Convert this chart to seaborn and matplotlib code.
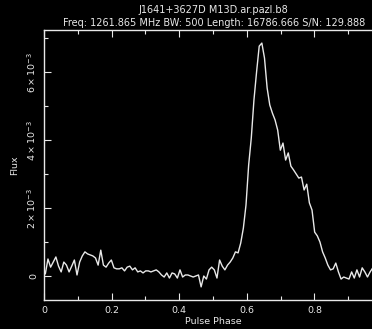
import numpy as np
import pandas as pd
import matplotlib
matplotlib.use("Agg")
import matplotlib.pyplot as plt
from matplotlib.ticker import MultipleLocator, FixedLocator
import seaborn as sns

# Pulse profile values (flux in units of 1e-3), 128 phase bins
flux_e3 = [
    0.06, 0.50, 0.26, 0.41, 0.56, 0.29, 0.12, 0.41, 0.32, 0.12, 0.29, 0.47, 0.03, 0.41, 0.59, 0.71,
    0.65, 0.62, 0.59, 0.53, 0.32, 0.76, 0.32, 0.26, 0.38, 0.47, 0.24, 0.21, 0.21, 0.24, 0.15, 0.26,
    0.29, 0.18, 0.24, 0.12, 0.15, 0.09, 0.15, 0.15, 0.12, 0.15, 0.18, 0.12, 0.03, -0.03, 0.09, -0.06,
    0.09, 0.06, -0.06, 0.18, -0.03, 0.03, 0.03, 0.00, -0.03, 0.00, 0.03, -0.32, 0.00, -0.09, 0.18, 0.26,
    0.18, -0.06, 0.47, 0.29, 0.18, 0.32, 0.41, 0.53, 0.71, 0.68, 0.97, 1.41, 2.09, 3.26, 4.06, 5.17,
    6.00, 6.76, 6.85, 6.41, 5.53, 5.03, 4.79, 4.59, 4.29, 3.70, 3.91, 3.41, 3.62, 3.23, 3.12, 3.00,
    2.88, 2.91, 2.53, 2.70, 2.15, 1.94, 1.29, 1.18, 1.00, 0.71, 0.53, 0.32, 0.18, 0.21, 0.38, 0.12,
    -0.09, -0.03, -0.06, -0.09, 0.12, -0.06, 0.18, -0.03, 0.24, 0.12, -0.03, 0.12, 0.24, 0.03, 0.18, 0.09,
]
nbin = len(flux_e3)
phase = (np.arange(nbin) + 0.5) / nbin
flux = np.array(flux_e3) * 1e-3

# the axis runs to phase 1 but the image is cropped before the "1" label
x_ticks = [0, 0.2, 0.4, 0.6, 0.8, 1.0]
x_labels = ["0", "0.2", "0.4", "0.6", "0.8", ""]
y_ticks = [0, 2e-3, 4e-3, 6e-3]
y_labels = ["0", r"$2\times10^{-3}$", r"$4\times10^{-3}$", r"$6\times10^{-3}$"]

title1 = "J1641+3627D M13D.ar.pazl.b8"
title2 = "Freq: 1261.865 MHz BW: 500 Length: 16786.666 S/N: 129.888"

df = pd.DataFrame({"Pulse Phase": phase, "Flux": flux})

fg = "#e8e8e8"
sns.set_theme(style="ticks", rc={
    "figure.facecolor": "black",
    "axes.facecolor": "black",
    "axes.edgecolor": fg,
    "axes.labelcolor": fg,
    "xtick.color": fg,
    "ytick.color": fg,
    "text.color": fg,
})
plt.rcParams["font.family"] = ["DejaVu Sans"]

fig = plt.figure(figsize=(3.72, 3.29), dpi=100)
ax = fig.add_axes([44 / 372, 1 - 300 / 329, 338 / 372, 270 / 329])

sns.lineplot(data=df, x="Pulse Phase", y="Flux", ax=ax, color=fg, lw=1.0,
             estimator=None, legend=False)

ax.set_xlim(0, 1)
ax.set_ylim(-0.706e-3, 7.235e-3)

ax.xaxis.set_major_locator(FixedLocator(x_ticks))
ax.set_xticklabels(x_labels)
ax.xaxis.set_minor_locator(MultipleLocator(0.1))
ax.yaxis.set_major_locator(FixedLocator(y_ticks))
ax.set_yticklabels(y_labels, rotation=90, va="center")
ax.yaxis.set_minor_locator(MultipleLocator(1e-3))

ax.tick_params(which="both", direction="in", top=True, right=True,
               labelsize=6.8, width=0.8, pad=4)
ax.tick_params(which="major", length=5)
ax.tick_params(which="minor", length=3)

for s in ax.spines.values():
    s.set_linewidth(1.0)

ax.set_xlabel("Pulse Phase", fontsize=6.8, labelpad=2)
ax.set_ylabel("Flux", fontsize=6.8, labelpad=5)

fig.text(213 / 372, 1 - 10 / 329, title1, ha="center", va="center", fontsize=7)
fig.text(214 / 372, 1 - 23 / 329, title2, ha="center", va="center", fontsize=7)

fig.savefig("out.png", dpi=100, facecolor="black")
